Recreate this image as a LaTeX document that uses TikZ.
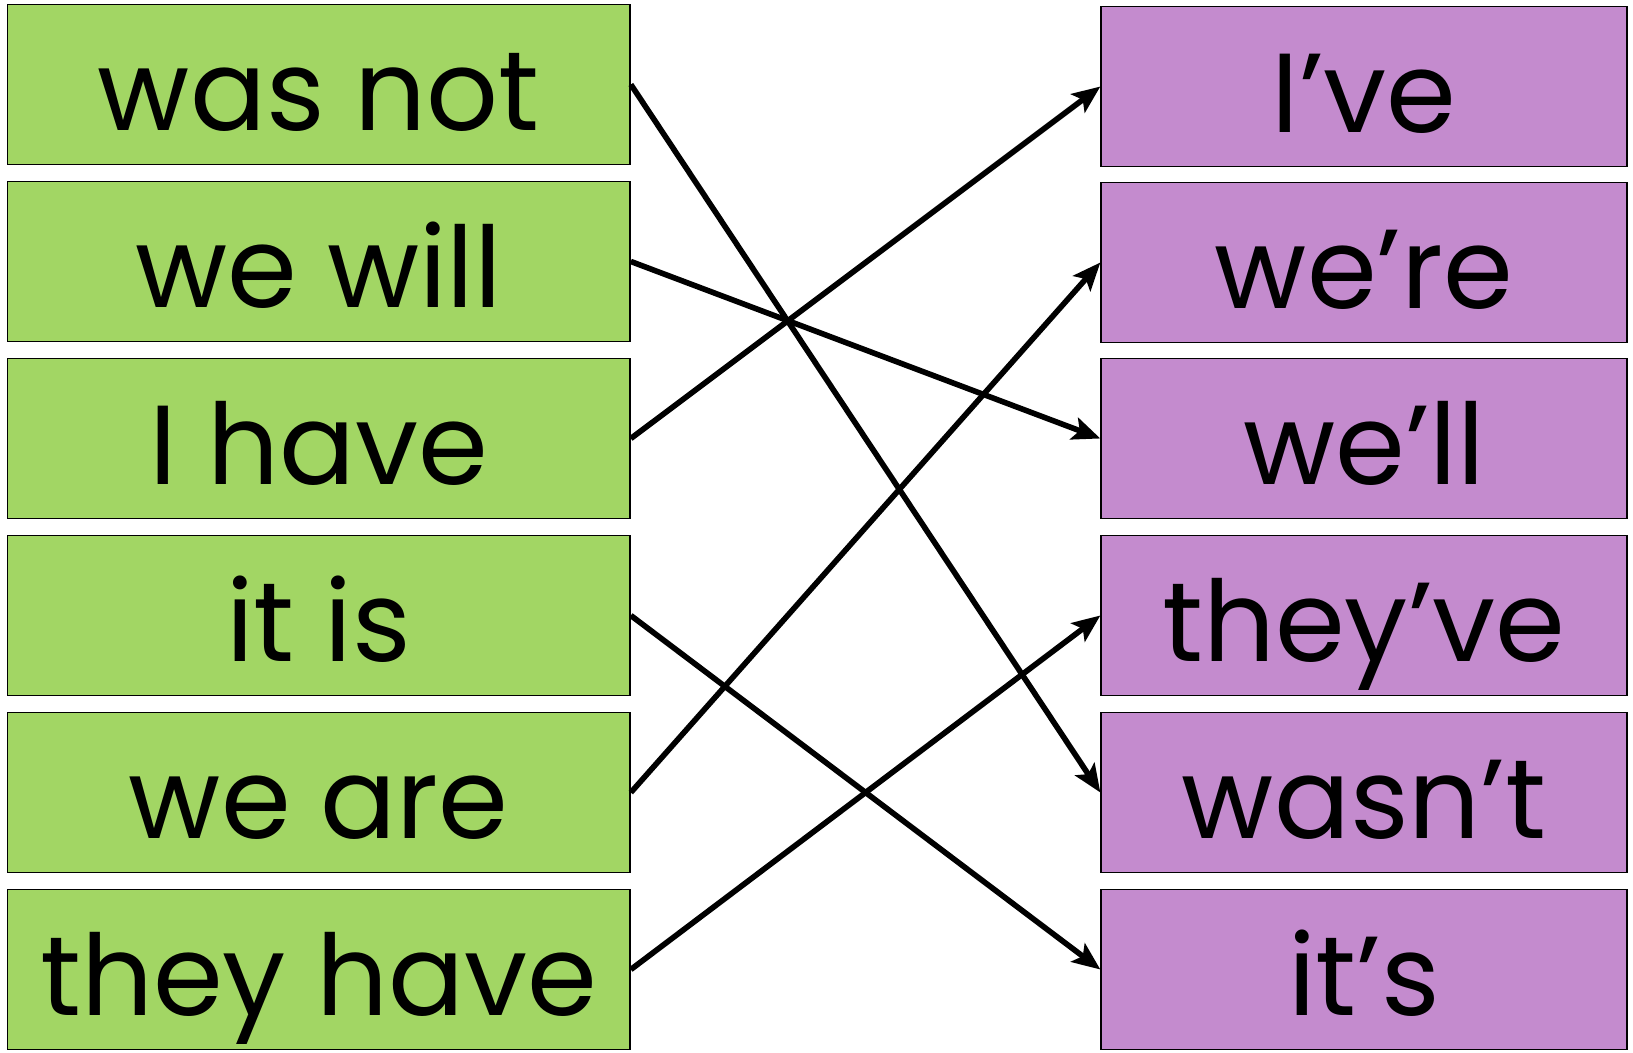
\documentclass[tikz,border=0pt]{standalone}
\usepackage{fontspec}
\setmainfont{Poppins}
\usepackage{xcolor}
\usetikzlibrary{arrows.meta}
\definecolor{leafgreen}{RGB}{162,214,100}
\definecolor{lilac}{RGB}{196,139,206}

\begin{document}
\begin{tikzpicture}[x=0.02cm,y=-0.02cm,
  word/.style={draw=black, line width=0.8pt, inner sep=0pt, text height=2.52cm, text depth=0.68cm,
    font=\fontsize{64}{76}\selectfont},
  full/.style={word, fill=leafgreen, minimum width=12.46cm},
  short/.style={word, fill=lilac, minimum width=10.52cm},
  link/.style={line width=3.2pt, -{Stealth[length=0.56cm, width=0.46cm, inset=0.12cm]}}]
\useasboundingbox (0,0) rectangle (1633,1053);

\node[full] (wasnot) at (318.7,84.5) {was not};
\node[full] (wewill) at (318.7,261.5) {we will};
\node[full] (ihave) at (318.7,438.5) {I have};
\node[full] (itis) at (318.7,615.5) {it is};
\node[full] (weare) at (318.7,792.5) {we are};
\node[full] (theyhave) at (318.7,969.5) {they have};

\node[short] (ive) at (1364,86.5) {I’ve};
\node[short] (were) at (1364,262.5) {we’re};
\node[short] (well) at (1364,438.5) {we’ll};
\node[short] (theyve) at (1364,615.5) {they’ve};
\node[short] (wasnt) at (1364,792.5) {wasn’t};
\node[short] (its) at (1364,969.5) {it’s};

\draw[link] (wasnot.east) -- (wasnt.west);
\draw[link] (wewill.east) -- (well.west);
\draw[link] (ihave.east) -- (ive.west);
\draw[link] (itis.east) -- (its.west);
\draw[link] (weare.east) -- (were.west);
\draw[link] (theyhave.east) -- (theyve.west);

\end{tikzpicture}
\end{document}
